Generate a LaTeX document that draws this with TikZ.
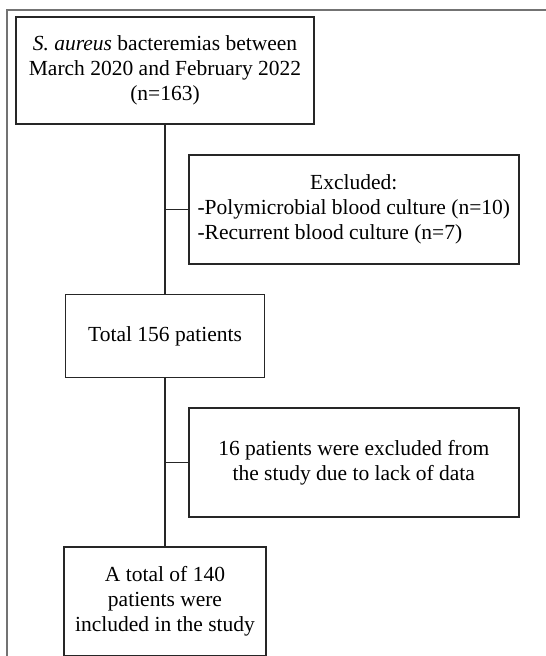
\documentclass[tikz,border=0pt]{standalone}
\usepackage{fontspec}
\setmainfont{Liberation Serif}
\usepackage{tikz}
\usetikzlibrary{calc, positioning}
\tikzstyle{stage}=[rectangle, draw=black!85, line width=1.6pt, align=center, inner sep=0pt, font=\fontsize{21.5}{25}\selectfont]
\tikzstyle{exclusion}=[stage, minimum width=330pt, minimum height=109pt]
\tikzstyle{trunk}=[draw=black!85, line width=1.6pt]

\begin{document}
\begin{tikzpicture}
          \useasboundingbox (0pt,0pt) rectangle (546pt,-656pt);
          \draw[black!55, line width=1.3pt] (7pt,-656pt) -- (7pt,-10pt) -- (546pt,-10pt);

          \node[stage, minimum width=298pt, minimum height=107pt] (b1) at (165pt,-70.5pt)
                {\textit{S. aureus} bacteremias between\\March 2020 and February 2022\\(n=163)};
					\node[stage, minimum width=199pt, minimum height=83pt] (b3) [below=169pt of b1] {Total 156 patients};
					\node[stage, minimum width=202pt, minimum height=109pt] (b5) [below=168pt of b3]
                {A total of 140\\patients were\\included in the study};

          \coordinate (j1) at ($(b1.south)!0.5!(b3.north)$);
          \coordinate (j2) at ($(b3.south)!0.5!(b5.north)$);

          \node [exclusion] (ex1) [right=23pt of j1]
                {\begin{tabular}{@{}l@{}}\multicolumn{1}{@{}c@{}}{Excluded:}\\-Polymicrobial blood culture (n=10)\\-Recurrent blood culture (n=7)\end{tabular}};
          \node [exclusion] (ex2) [right=23pt of j2]
                {16 patients were excluded from\\the study due to lack of data};

          \path[trunk] (b1) edge (b3) (b3) edge (b5)
                (j1) edge (ex1) (j2) edge (ex2);
        \end{tikzpicture}
\end{document}
